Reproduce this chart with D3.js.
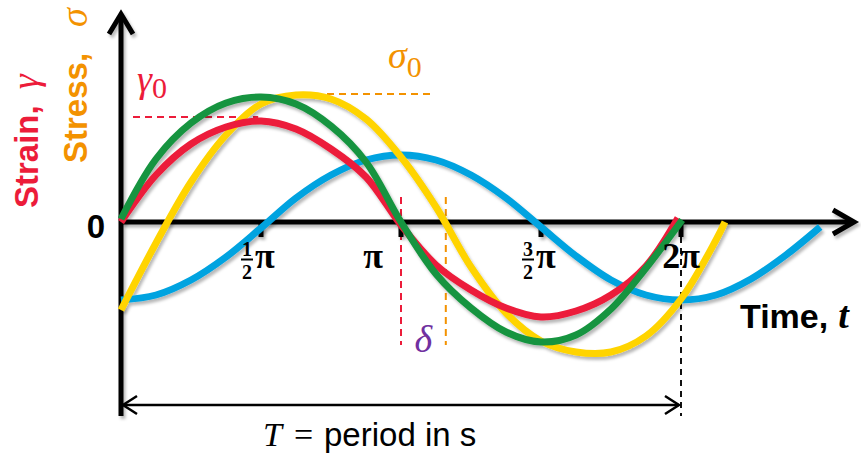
<!DOCTYPE html>
<html>
<head>
<meta charset="utf-8">
<script src="https://cdn.jsdelivr.net/npm/d3@7"></script>
<style>
  body { margin: 0; background: #fff; }
  svg { display: block; }
</style>
</head>
<body>
<svg id="chart" width="861" height="456"></svg>
<script>
// Phase t is in units of π; amplitudes are relative to the strain amplitude.
const strain = [[0,0],[0.125,0.47],[0.25,0.78],[0.375,0.95],[0.5,1.01],[0.625,0.93],[0.75,0.73],
  [0.875,0.45],[1,-0.03],[1.125,-0.43],[1.25,-0.68],[1.375,-0.86],[1.5,-0.95],[1.625,-0.89],
  [1.75,-0.73],[1.875,-0.44],[1.989,0.04]];

const stress = [[0,-0.88],[0.125,-0.21],[0.25,0.4],[0.375,0.87],[0.5,1.18],[0.625,1.27],[0.75,1.23],
  [0.875,1.03],[1,0.65],[1.125,0.15],[1.25,-0.45],[1.375,-0.91],[1.5,-1.19],[1.625,-1.3],
  [1.75,-1.3],[1.875,-1.14],[2,-0.77],[2.125,-0.18],[2.157,0]];

const inPhase = [[0,0.03],[0.125,0.63],[0.25,0.99],[0.375,1.19],[0.5,1.25],[0.625,1.18],[0.75,0.96],
  [0.875,0.6],[1,0],[1.125,-0.52],[1.25,-0.86],[1.375,-1.1],[1.5,-1.2],[1.625,-1.13],[1.75,-0.87],
  [1.875,-0.46],[2.004,0.02]];

const outOfPhase = [[0,-0.78],[0.125,-0.73],[0.25,-0.58],[0.375,-0.35],[0.5,-0.06],[0.625,0.24],
  [0.75,0.47],[0.875,0.62],[1,0.67],[1.125,0.62],[1.25,0.47],[1.375,0.24],[1.5,-0.05],[1.625,-0.34],
  [1.75,-0.58],[1.875,-0.73],[2,-0.78],[2.125,-0.73],[2.25,-0.57],[2.375,-0.33],[2.497,-0.05]];

const tickValues = [0.5, 1, 1.5, 2];
const tickLabels = ["1/2 π", "π", "3/2 π", "2π"];

const gamma0 = 1.05;      // strain amplitude marker
const sigma0 = 1.28;      // stress amplitude marker
const deltaPhase = 0.16;  // phase lag of stress behind strain (× π)
const period = 2;         // one full cycle (× π)

const svg = d3.select("#chart");
const x = d3.scaleLinear().domain([0, 2]).range([121, 681]);
const y = d3.scaleLinear().domain([-1, 1]).range([322, 122]);

const COL = {
  red: "#EC1C3A", yellow: "#FFD400", green: "#17943F", blue: "#00A3E0",
  orange: "#F39200", purple: "#7030A0"
};
const SANS = "Arial, 'Liberation Sans', Helvetica, sans-serif";
const SERIF = "'Liberation Serif', 'DejaVu Serif', serif";

// soft drop shadow under lines
const defs = svg.append("defs");
const f = defs.append("filter").attr("id", "shadow")
  .attr("x", "-10%").attr("y", "-10%").attr("width", "120%").attr("height", "120%");
f.append("feDropShadow").attr("dx", 2).attr("dy", 3).attr("stdDeviation", 1.6)
  .attr("flood-color", "#000").attr("flood-opacity", 0.28);

const y0 = y(0);

// ---- guide lines (dashed) ----
const guides = svg.append("g").attr("fill", "none").attr("stroke-width", 2);
guides.append("line")
  .attr("x1", x(0) + 12).attr("x2", x(0.49)).attr("y1", y(gamma0)).attr("y2", y(gamma0))
  .attr("stroke", COL.red).attr("stroke-dasharray", "7,5");
guides.append("line")
  .attr("x1", x(0.65)).attr("x2", x(1.12)).attr("y1", y(sigma0)).attr("y2", y(sigma0))
  .attr("stroke", COL.orange).attr("stroke-dasharray", "7,5");
guides.append("line")
  .attr("x1", x(1)).attr("x2", x(1)).attr("y1", y0 - 25).attr("y2", y0 + 123)
  .attr("stroke", COL.red).attr("stroke-dasharray", "7,5");
guides.append("line")
  .attr("x1", x(1 + deltaPhase)).attr("x2", x(1 + deltaPhase)).attr("y1", y0 - 25).attr("y2", y0 + 123)
  .attr("stroke", COL.orange).attr("stroke-dasharray", "7,5");
guides.append("line")
  .attr("x1", x(period)).attr("x2", x(period)).attr("y1", y0 + 4).attr("y2", 416)
  .attr("stroke", "#111").attr("stroke-dasharray", "6,5");

// ---- axes ----
const axes = svg.append("g").attr("stroke", "#000").attr("fill", "none")
  .attr("stroke-width", 5).attr("filter", "url(#shadow)");
axes.append("path").attr("d", `M${x(0) - 2},${y0} H852`);
axes.append("path").attr("d", `M833,${y0 - 12} L854,${y0} L833,${y0 + 12}`).attr("stroke-linejoin", "miter");
axes.append("path").attr("d", `M${x(0)},416 V16`);
axes.append("path").attr("d", `M${x(0) - 12},34 L${x(0)},14 L${x(0) + 12},34`).attr("stroke-linejoin", "miter");
tickValues.forEach(v => {
  axes.append("line").attr("x1", x(v)).attr("x2", x(v)).attr("y1", y0).attr("y2", y0 + 15);
});

// ---- curves ----
const line = d3.line().x(d => x(d[0])).y(d => y(d[1])).curve(d3.curveCatmullRom.alpha(0.5));
const curves = svg.append("g").attr("fill", "none").attr("stroke-width", 7)
  .attr("filter", "url(#shadow)");
[[outOfPhase, COL.blue], [stress, COL.yellow], [strain, COL.red], [inPhase, COL.green]]
  .forEach(([data, c]) => curves.append("path").attr("d", line(data)).attr("stroke", c));

// ---- period arrow ----
const pa = svg.append("g").attr("stroke", "#000").attr("fill", "none").attr("stroke-width", 2.5);
const py = 405;
pa.append("line").attr("x1", x(0) + 2).attr("x2", x(period) - 2).attr("y1", py).attr("y2", py);
pa.append("path").attr("d", `M${x(0) + 16},${py - 9} L${x(0) + 2},${py} L${x(0) + 16},${py + 9}`);
pa.append("path").attr("d", `M${x(period) - 16},${py - 9} L${x(period) - 2},${py} L${x(period) - 16},${py + 9}`);

// ---- tick labels ----
const labelShift = [-14, -28, -13, 0];
tickLabels.forEach((lab, i) => {
  const cx = x(tickValues[i]) + labelShift[i];
  const m = lab.match(/^(\d)\/(\d) (.*)$/);
  const g = svg.append("g").attr("font-family", SERIF).attr("font-weight", "bold").attr("fill", "#000");
  if (m) {
    g.append("text").attr("x", cx).attr("y", 255.5).attr("text-anchor", "middle")
      .attr("font-size", 20).text(m[1]);
    g.append("line").attr("x1", cx - 6).attr("x2", cx + 6).attr("y1", 259.5).attr("y2", 259.5)
      .attr("stroke", "#000").attr("stroke-width", 2);
    g.append("text").attr("x", cx).attr("y", 278.5).attr("text-anchor", "middle")
      .attr("font-size", 20).text(m[2]);
    g.append("text").attr("x", cx + 8).attr("y", 268).attr("font-size", 36).text(m[3]);
  } else {
    g.append("text").attr("x", cx).attr("y", 268).attr("text-anchor", "middle")
      .attr("font-size", 36).text(lab);
  }
});

// origin label
svg.append("text").attr("x", 96).attr("y", 238).attr("text-anchor", "middle")
  .attr("font-family", SANS).attr("font-weight", "bold").attr("font-size", 33).text("0");

// axis titles
const yt1 = svg.append("text").attr("transform", "translate(38,208) rotate(-90)")
  .attr("fill", COL.red);
yt1.append("tspan").attr("font-family", SANS).attr("font-weight", "bold").attr("font-size", 33).text("Strain,");
yt1.append("tspan").attr("font-family", SERIF).attr("font-style", "italic").attr("font-size", 38)
  .attr("dx", 16).text("γ");

const yt2 = svg.append("text").attr("transform", "translate(87,163) rotate(-90)")
  .attr("fill", COL.orange);
yt2.append("tspan").attr("font-family", SANS).attr("font-weight", "bold").attr("font-size", 33).text("Stress,");
yt2.append("tspan").attr("font-family", SERIF).attr("font-style", "italic").attr("font-size", 38)
  .attr("dx", 26).text("σ");

const xt = svg.append("text").attr("x", 740).attr("y", 328).attr("fill", "#000");
xt.append("tspan").attr("font-family", SANS).attr("font-weight", "bold").attr("font-size", 34).text("Time,");
xt.append("tspan").attr("font-family", SERIF).attr("font-weight", "bold").attr("font-style", "italic")
  .attr("font-size", 38).attr("dx", 10).text("t");

// amplitude and phase labels
const g0 = svg.append("text").attr("x", 137).attr("y", 92).attr("fill", COL.red).attr("font-family", SERIF);
g0.append("tspan").attr("font-size", 38).attr("font-style", "italic").text("γ");
g0.append("tspan").attr("font-size", 30).attr("dy", 6).text("0");

const s0 = svg.append("text").attr("x", 388).attr("y", 68).attr("fill", COL.orange).attr("font-family", SERIF);
s0.append("tspan").attr("font-size", 38).attr("font-style", "italic").text("σ");
s0.append("tspan").attr("font-size", 30).attr("dy", 9).text("0");

svg.append("text").attr("x", (x(1) + x(1 + deltaPhase)) / 2).attr("y", 352).attr("text-anchor", "middle")
  .attr("fill", COL.purple).attr("font-family", SERIF).attr("font-style", "italic")
  .attr("font-size", 38).text("δ");

// period caption
const pc = svg.append("text").attr("y", 446).attr("fill", "#000");
pc.append("tspan").attr("x", 263).attr("font-family", SERIF).attr("font-style", "italic")
  .attr("font-size", 34).text("T");
pc.append("tspan").attr("x", 294).attr("font-family", SERIF).attr("font-size", 34).text("=");
pc.append("tspan").attr("x", 324).attr("font-family", SANS).attr("font-size", 33).text("period in s");
</script>
</body>
</html>
